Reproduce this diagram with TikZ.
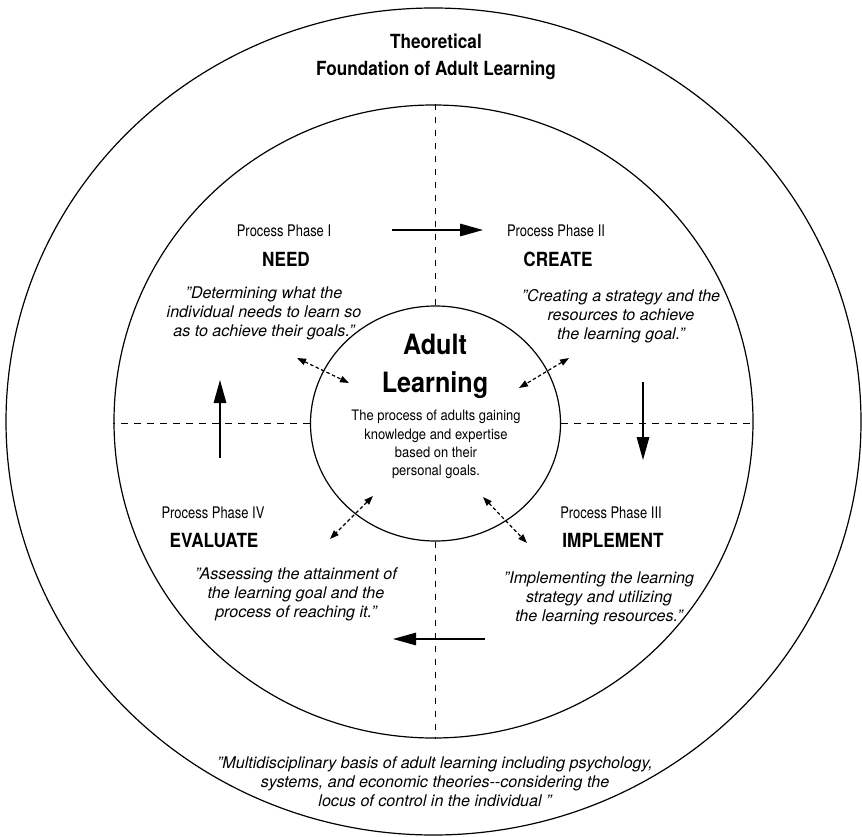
\documentclass[tikz,border=0pt]{standalone}
\usepackage{fontspec}
\setmainfont{TeX Gyre Heros}
\newfontfamily\narA[FakeStretch=0.81]{TeX Gyre Heros}
\newfontfamily\narB[FakeStretch=0.88]{TeX Gyre Heros}
\newfontfamily\narC[FakeStretch=0.9]{TeX Gyre Heros}
\usetikzlibrary{shapes.geometric,arrows.meta}
\begin{document}
\begin{tikzpicture}[x=1pt,y=-1pt,
  ring/.style={draw, ellipse, line width=1.2pt, inner sep=0pt},
  phasetext/.style={inner sep=0pt, font=\narA\fontsize{16}{19}\selectfont},
  stagetext/.style={inner sep=0pt, font=\narB\bfseries\fontsize{19.5}{23}\selectfont},
  quotetext/.style={inner sep=0pt, align=center, font=\itshape\fontsize{16.1}{19}\selectfont},
  axisline/.style={dash pattern=on 6.5pt off 6.5pt, line width=1pt},
  flowarrow/.style={line width=1.4pt, -{Triangle[length=23pt,width=12.5pt]}},
  linkarrow/.style={dash pattern=on 3.5pt off 2.5pt, line width=1.2pt,
    {Triangle[length=9pt,width=6.5pt]}-{Triangle[length=9pt,width=6.5pt]}}
]
\useasboundingbox (0,0) rectangle (862,837);

% rings
\node[ring, minimum width=855pt, minimum height=827pt] (outer) at (433.5,421.5) {};
\node[ring, minimum width=639pt, minimum height=633pt] (mid) at (433.5,421.5) {};
\node[ring, minimum width=250pt, minimum height=235pt] (core) at (435.5,423.5) {};

% dashed axes
\draw[axisline] (core.north) -- (core.north |- mid.north);
\draw[axisline] (core.south) -- (core.south |- mid.south);
\draw[axisline] (core.west) -- (mid.west |- core.west);
\draw[axisline] (core.east) -- (mid.east |- core.east);

% title
\node[inner sep=0pt, align=center, font=\narB\bfseries\fontsize{19.5}{27}\selectfont] (title) at (436,56.5)
  {Theoretical\\Foundation of Adult Learning};

% core
\node[inner sep=0pt, align=center, font=\narC\bfseries\fontsize{28}{38}\selectfont] (coretitle) at (435,366)
  {Adult\\Learning};
\node[inner sep=0pt, align=center, font=\narC\fontsize{14.4}{18.3}\selectfont] (coretext) at (436,444.5)
  {The process of adults gaining\\knowledge and expertise\\based on their\\personal goals.};

% phase I
\node[phasetext] (p1) at (284,231) {Process Phase I};
\node[stagetext] (n1) at (286,259) {NEED};
\node[quotetext] (q1) at (264,313.5) {"Determining what the\\individual needs to learn so\\as to achieve their goals."};

% phase II
\node[phasetext] (p2) at (556,231) {Process Phase II};
\node[stagetext] (n2) at (558,259) {CREATE};
\node[quotetext] (q2) at (621,316) {"Creating a strategy and the\\resources to achieve\\the learning goal."};

% phase III
\node[phasetext] (p3) at (611,513) {Process Phase III};
\node[stagetext] (n3) at (613,540) {IMPLEMENT};
\node[quotetext] (q3) at (599,598) {"Implementing the learning\\strategy and utilizing\\the learning resources."};

% phase IV
\node[phasetext] (p4) at (213,513) {Process Phase IV};
\node[stagetext] (n4) at (214,541) {EVALUATE};
\node[quotetext] (q4) at (296,594) {"Assessing the attainment of\\the learning goal and the\\process of reaching it."};

% foundation quote
\node[quotetext] (multi) at (435,781.5)
  {"Multidisciplinary basis of adult learning including psychology,\\systems, and economic theories-{}-considering the\\locus of control in the individual "};

% cycle arrows
\coordinate (a1s) at (392,230); \coordinate (a1e) at (483,230);
\coordinate (a2s) at (643,382); \coordinate (a2e) at (643,460);
\coordinate (a3s) at (485,639); \coordinate (a3e) at (393,639);
\coordinate (a4s) at (220,458); \coordinate (a4e) at (220,380);
\draw[flowarrow] (a1s) -- (a1e);
\draw[flowarrow] (a2s) -- (a2e);
\draw[flowarrow] (a3s) -- (a3e);
\draw[flowarrow] (a4s) -- (a4e);

% dashed double arrows
\coordinate (d1a) at (297,358); \coordinate (d1b) at (349,383);
\coordinate (d2a) at (569,358); \coordinate (d2b) at (519,388);
\coordinate (d3a) at (373,496); \coordinate (d3b) at (330,539);
\coordinate (d4a) at (483,497); \coordinate (d4b) at (527,543);
\draw[linkarrow] (d1a) -- (d1b);
\draw[linkarrow] (d2a) -- (d2b);
\draw[linkarrow] (d3a) -- (d3b);
\draw[linkarrow] (d4a) -- (d4b);
\end{tikzpicture}
\end{document}
